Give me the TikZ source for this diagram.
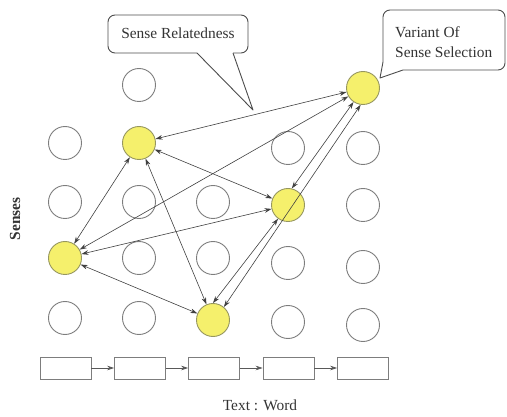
\documentclass[tikz,border=0pt]{standalone}
\usepackage{fontspec}
\setmainfont{Liberation Serif}
\usetikzlibrary{arrows.meta}
\definecolor{senseyellow}{RGB}{245,240,108}
\definecolor{senseline}{RGB}{125,125,125}
\definecolor{selline}{RGB}{150,150,95}
\tikzset{
  sense/.style={circle,draw=senseline,line width=0.9pt,minimum size=33pt,inner sep=0pt},
  chosen/.style={sense,draw=selline,fill=senseyellow},
  wordbox/.style={draw=senseline,line width=0.9pt,minimum width=51pt,minimum height=22pt,inner sep=0pt},
  rel/.style={<->,draw=black!75,line width=0.6pt},
  link/.style={->,draw=black!65,line width=0.7pt},
  balloon/.style={draw=black!70,line width=0.9pt},
  lbl/.style={font=\fontsize{15.4}{20}\selectfont,text=black!80,inner sep=0pt},
  >={Stealth[length=7pt,width=4.6pt]}
}
\begin{document}
\begin{tikzpicture}[x=1pt,y=-1pt]
\useasboundingbox (0,0) rectangle (507,417);
% senses that were not chosen
\foreach \n/\x/\y in {c1a/65/143,c1b/65/202,c1c/65/318,
  c2a/139/85,c2b/139/202,c2c/139/258,c2d/139/318,
  c3a/213/202,c3b/213/258,
  c4a/288/148,c4b/288/263,c4c/288/322,
  c5a/363/148,c5b/363/205,c5c/363/267,c5d/363/325}{\node[sense](\n) at (\x,\y){};}
% chosen senses
\foreach \i/\x/\y in {1/65/258,2/139/143,3/213/320,4/288/205,5/363/88}{\node[chosen](sel\i) at (\x,\y){};}
% relatedness between chosen senses
\foreach \a/\b in {sel2/sel5,sel2/sel4,sel2/sel3,sel2/sel1,sel1/sel4,sel1/sel5,sel1/sel3}{\draw[rel](\a)--(\b);}
\draw[rel](sel3.90)--(sel4.234);
\draw[rel](sel3.50)--(sel5.262);
\draw[rel](sel4.77)--(sel5.236);
% words of the text
\foreach \i/\x in {1/65.5,2/140,3/214,4/288.5,5/363}{\node[wordbox](word\i) at (\x,368){};}
\foreach \i in {1,...,4}{\pgfmathtruncatemacro{\j}{\i+1}\draw[link](word\i)--(word\j);}
\node[lbl](text) at (260,405){Text : Word};
\node[lbl,font=\fontsize{15.4}{20}\selectfont\bfseries,rotate=90](senses) at (15,219){Senses};
% balloons
\node[lbl](related) at (178,33){Sense Relatedness};
\draw[balloon,rounded corners=7pt](233,53)--(248,53)--(248,15)--(108,15)--(108,53)--(197,53);
\draw[balloon,line join=round](197,53)--(253,110)--(233,53);
\node[lbl,align=left,anchor=west](variant) at (395,42){Variant Of\\Sense Selection};
\draw[balloon,rounded corners=7pt](383,62)--(383,10)--(505,10)--(505,70)--(403,70);
\draw[balloon,line join=round](383,62)--(380,78)--(403,70);
\end{tikzpicture}
\end{document}
